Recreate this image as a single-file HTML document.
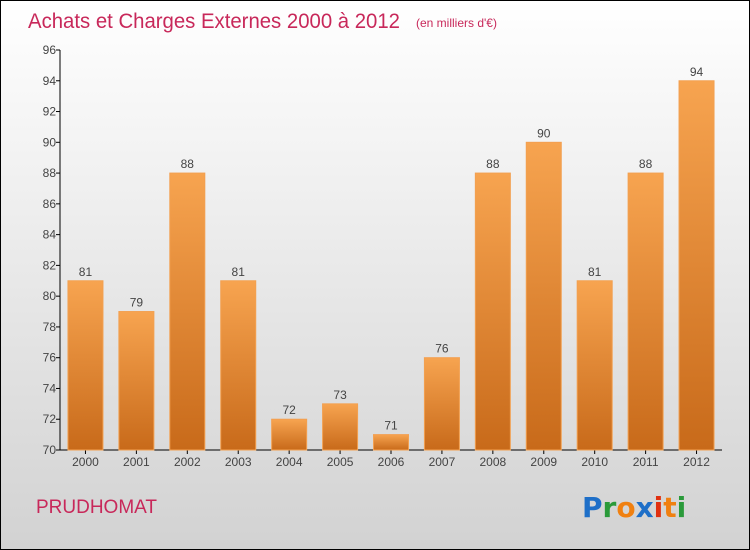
<!DOCTYPE html>
<html><head><meta charset="utf-8"><style>
body{margin:0;}
#wrap{position:relative;width:750px;height:550px;}
svg{display:block;font-family:"Liberation Sans","DejaVu Sans",sans-serif;}
</style></head><body>
<div id="wrap">
<svg id="chart" width="750" height="550">
<defs>
<linearGradient id="bg" x1="0" y1="0" x2="0" y2="1"><stop offset="0" stop-color="#ffffff"/><stop offset="1" stop-color="#d2d2d2"/></linearGradient>
<linearGradient id="bar" x1="0" y1="0" x2="0" y2="1"><stop offset="0" stop-color="#f7a450"/><stop offset="1" stop-color="#c86a1a"/></linearGradient>
</defs>
<rect x="0.5" y="0.5" width="749" height="549" fill="url(#bg)" stroke="#000"/>
<text x="28" y="28" font-size="21" fill="#c8285a" textLength="372" lengthAdjust="spacingAndGlyphs">Achats et Charges Externes 2000 à 2012</text>
<text x="416" y="27" font-size="12" fill="#c8285a">(en milliers d'€)</text>
<g id="axes"></g>
<g id="bars"></g>
<text x="36" y="513" font-size="19" fill="#c8285a">PRUDHOMAT</text>
<g font-size="28" font-weight="bold" font-family="'DejaVu Sans',sans-serif">
<text x="582" y="517"><tspan fill="#1e6fc8">P</tspan><tspan fill="#2a9a3a">r</tspan><tspan fill="#f08010">o</tspan><tspan fill="#1e6fc8">x</tspan><tspan fill="#e03010">i</tspan><tspan fill="#f08010">t</tspan><tspan fill="#2a9a3a">i</tspan></text>
</g>
</svg>
</div>
<script>
const years=["2000","2001","2002","2003","2004","2005","2006","2007","2008","2009","2010","2011","2012"];
const values=[81,79,88,81,72,73,71,76,88,90,81,88,94];
const yTicks=[70,72,74,76,78,80,82,84,86,88,90,92,94,96];
const NS="http://www.w3.org/2000/svg";
const yMin=70,yMax=96,plotTop=50,plotBottom=450,plotLeft=60,plotRight=722;
function yPos(v){return plotBottom-(v-yMin)/(yMax-yMin)*(plotBottom-plotTop);}
const step=(plotRight-plotLeft)/years.length;
function xc(i){return plotLeft+step*(i+0.5);}
function mk(t,a,p){const e=document.createElementNS(NS,t);for(const k in a)e.setAttribute(k,a[k]);p.appendChild(e);return e;}
const ax=document.getElementById('axes'),bg=document.getElementById('bars');
const yl=mk('line',{x1:plotLeft,y1:plotTop,x2:plotLeft,y2:plotBottom,stroke:'#000'},ax);


const xl=mk('line',{x1:plotLeft,y1:plotBottom,x2:plotRight,y2:plotBottom,stroke:'#000'},ax);


yTicks.forEach(v=>{
 mk('line',{x1:plotLeft-4,y1:yPos(v),x2:plotLeft,y2:yPos(v),stroke:'#000'},ax);
 const t=mk('text',{x:plotLeft-4,y:yPos(v)+4,'font-size':12,fill:'#444','text-anchor':'end'},ax);
 t.textContent=v;
 
 
});
years.forEach((yr,i)=>{
 const c=xc(i),v=values[i];
 mk('line',{x1:c,y1:plotBottom,x2:c,y2:plotBottom+4,stroke:'#000'},ax);
 const t=mk('text',{x:c,y:plotBottom+16,'font-size':12,fill:'#444','text-anchor':'middle'},ax);
 t.textContent=yr;
 
 
 const r=mk('rect',{x:c-17.5,y:yPos(v),width:35,height:plotBottom-yPos(v),fill:'url(#bar)',stroke:'#f3a050','stroke-width':1},bg);
 
 
 const l=mk('text',{x:c,y:yPos(v)-5,'font-size':12,fill:'#444','text-anchor':'middle'},bg);
 l.textContent=v;
 
 
});
</script>
</body></html>
